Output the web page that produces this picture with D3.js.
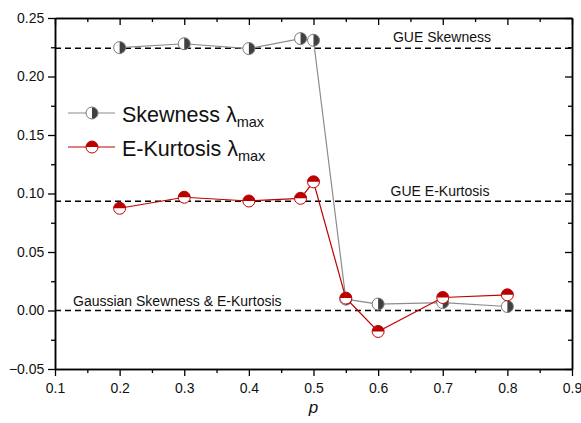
<!DOCTYPE html>
<html>
<head>
<meta charset="utf-8">
<script src="https://cdn.jsdelivr.net/npm/d3@7"></script>
<style>
  body { margin: 0; background: #fff; }
  text { font-family: Arial, "Liberation Sans", sans-serif; fill: #111; }
</style>
</head>
<body>
<svg id="chart" width="581" height="423"></svg>
<script>
const pValues = [0.2, 0.3, 0.4, 0.48, 0.5, 0.55, 0.6, 0.7, 0.8];
const skewness = [0.2247, 0.2280, 0.2239, 0.2324, 0.2310, 0.0097, 0.0055, 0.0068, 0.0034];
const kurtosis = [0.0874, 0.0968, 0.0936, 0.0959, 0.1100, 0.0106, -0.0179, 0.0111, 0.0134];
const xTicks = [0.1, 0.2, 0.3, 0.4, 0.5, 0.6, 0.7, 0.8, 0.9];
const yTicks = [-0.05, 0, 0.05, 0.1, 0.15, 0.2, 0.25];
const refLines = [
  {value: 0.2241, label: 'GUE Skewness'},
  {value: 0.0934, label: 'GUE E-Kurtosis'},
  {value: 0, label: 'Gaussian Skewness & E-Kurtosis'}
];

const svg = d3.select('#chart');
const plotL = 55, plotR = 572, plotT = 18, plotB = 369;

const x = d3.scaleLinear().domain([0.1, 0.9]).range([plotL, plotR]);
const y = d3.scaleLinear().domain([-0.05, 0.25]).range([plotB, plotT]);

// axes: outward ticks left/bottom, inward on top/right
const xMinor = d3.range(0.15, 0.9, 0.1);
const yMinor = d3.range(-0.025, 0.25, 0.05);

const axisBottom = svg.append('g').attr('transform', `translate(0,${plotB})`)
  .call(d3.axisBottom(x).tickValues(xTicks).tickFormat(d3.format('.1f')).tickSize(7).tickSizeOuter(0));
svg.append('g').attr('transform', `translate(0,${plotB})`)
  .call(d3.axisBottom(x).tickValues(xMinor).tickFormat('').tickSize(4).tickSizeOuter(0));
const axisLeft = svg.append('g').attr('transform', `translate(${plotL},0)`)
  .call(d3.axisLeft(y).tickValues(yTicks).tickFormat(d3.format('.2f')).tickSize(7).tickSizeOuter(0));
svg.append('g').attr('transform', `translate(${plotL},0)`)
  .call(d3.axisLeft(y).tickValues(yMinor).tickFormat('').tickSize(4).tickSizeOuter(0));
svg.append('g').attr('transform', `translate(0,${plotT})`)
  .call(d3.axisBottom(x).tickValues(xTicks).tickFormat('').tickSize(7).tickSizeOuter(0));
svg.append('g').attr('transform', `translate(0,${plotT})`)
  .call(d3.axisBottom(x).tickValues(xMinor).tickFormat('').tickSize(4).tickSizeOuter(0));
svg.append('g').attr('transform', `translate(${plotR},0)`)
  .call(d3.axisLeft(y).tickValues(yTicks).tickFormat('').tickSize(7).tickSizeOuter(0));
svg.append('g').attr('transform', `translate(${plotR},0)`)
  .call(d3.axisLeft(y).tickValues(yMinor).tickFormat('').tickSize(4).tickSizeOuter(0));

svg.selectAll('.domain').attr('stroke', '#000').attr('stroke-width', 1.5);
svg.selectAll('.tick line').attr('stroke', '#000').attr('stroke-width', 1.3);
svg.selectAll('.tick text').attr('font-size', 14).attr('font-family', 'Arial, "Liberation Sans", sans-serif').attr('fill', '#111');
axisBottom.selectAll('.tick text').attr('dy', '1.0em');
axisLeft.selectAll('.tick text').attr('dx', '-0.05em');

svg.append('text').attr('x', x(0.5)).attr('y', 413)
  .attr('text-anchor', 'middle').attr('font-size', 17).attr('font-style', 'italic').text('p');

// reference lines
svg.selectAll('.ref').data(refLines).enter().append('line')
  .attr('x1', plotL).attr('x2', plotR)
  .attr('y1', d => y(d.value)).attr('y2', d => y(d.value))
  .attr('stroke', '#000').attr('stroke-width', 1.5).attr('stroke-dasharray', '6,4');

svg.append('text').attr('x', 442).attr('y', 41.5).attr('text-anchor', 'middle').attr('font-size', 14).text(refLines[0].label);
svg.append('text').attr('x', 440).attr('y', 196).attr('text-anchor', 'middle').attr('font-size', 14).text(refLines[1].label);
svg.append('text').attr('x', 73).attr('y', 305.5).attr('font-size', 14).text(refLines[2].label);

// half-filled circle markers
const r = 6;
const halfArc = (start) => d3.arc().innerRadius(0).outerRadius(r).startAngle(start).endAngle(start + Math.PI)();
const series = [
  {values: skewness, line: '#8c8c8c', edge: '#7a7a7a', fill: '#404040', start: 0},
  {values: kurtosis, line: '#c00000', edge: '#c00000', fill: '#b80000', start: -Math.PI / 2}
];

const drawMarker = (g, s) => {
  g.append('circle').attr('r', r).attr('fill', '#fff').attr('stroke', 'none');
  g.append('path').attr('d', halfArc(s.start)).attr('fill', s.fill);
  g.append('circle').attr('r', r).attr('fill', 'none').attr('stroke', s.edge).attr('stroke-width', 1);
};

series.forEach(s => {
  const pts = pValues.map((p, i) => [p, s.values[i]]);
  svg.append('path').datum(pts)
    .attr('d', d3.line().x(d => x(d[0])).y(d => y(d[1])))
    .attr('fill', 'none').attr('stroke', s.line).attr('stroke-width', 1.2);
  svg.selectAll(null).data(pts).enter().append('g')
    .attr('transform', d => `translate(${x(d[0])},${y(d[1])})`)
    .each(function () { drawMarker(d3.select(this), s); });
});

// legend
const legendNames = ['Skewness ', 'E-Kurtosis '];
legendNames.forEach((name, i) => {
  const s = series[i];
  const ly = 113 + i * 34;
  svg.append('line').attr('x1', 68).attr('x2', 115).attr('y1', ly).attr('y2', ly)
    .attr('stroke', s.line).attr('stroke-width', 1.2);
  drawMarker(svg.append('g').attr('transform', `translate(92,${ly})`), s);
  const t = svg.append('text').attr('x', 122).attr('y', ly + 8.5).attr('font-size', 21.5);
  t.append('tspan').text(name + 'λ');
  t.append('tspan').attr('font-size', 14.5).attr('dy', 5).text('max');
});
</script>
</body>
</html>
